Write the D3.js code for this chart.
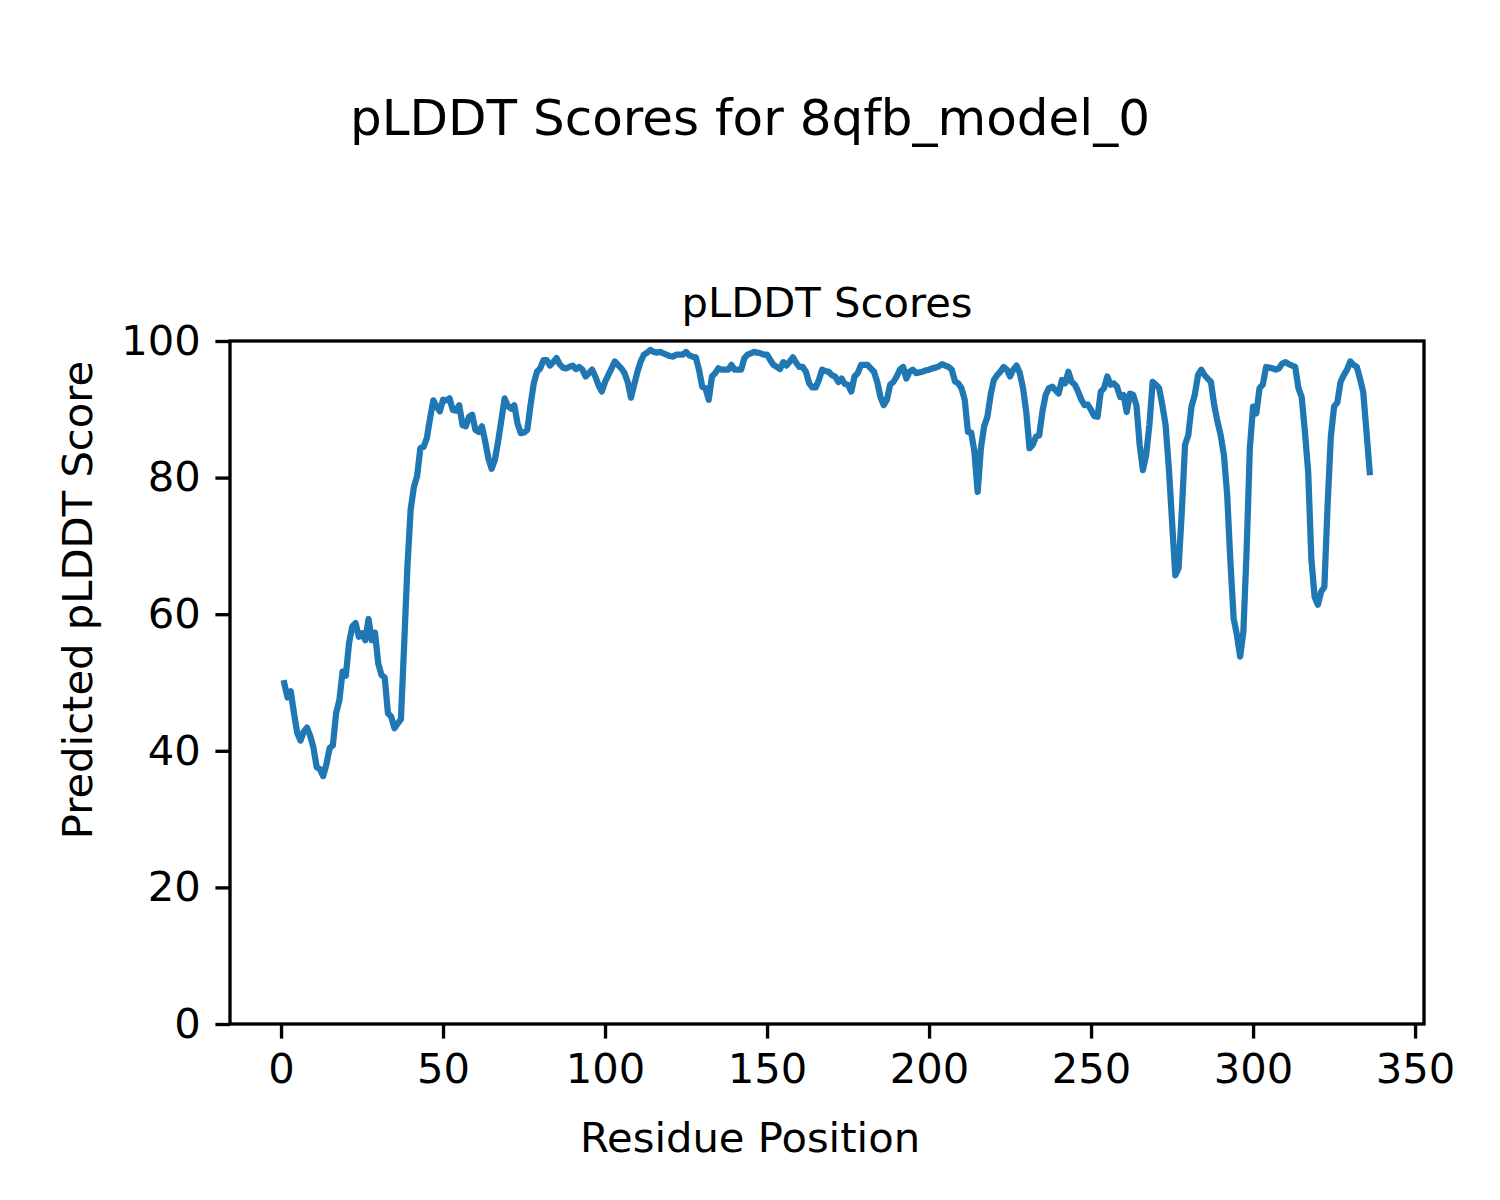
<!DOCTYPE html>
<html>
<head>
<meta charset="utf-8">
<script src="https://cdn.jsdelivr.net/npm/d3@7"></script>
<style>
  html, body { margin: 0; padding: 0; background: #fff; }
  svg { display: block; }
  text { font-family: "DejaVu Sans", sans-serif; fill: #000; }
</style>
</head>
<body>
<script>
// ---------- data ----------
const residues = d3.range(1, 337);
const plddt = [
  49.9, 47.8, 48.7, 45.5, 42.6, 41.5, 42.8, 43.4, 42.2, 40.5,
  37.6, 37.3, 36.3, 38.0, 40.4, 40.8, 45.5, 47.4, 51.6, 51.0,
  55.8, 58.2, 58.7, 56.7, 57.2, 56.2, 59.3, 56.2, 57.3, 52.8,
  51.1, 50.7, 45.5, 45.0, 43.3, 44.0, 44.6, 55.5, 66.9, 75.3,
  78.6, 80.2, 84.3, 84.5, 85.8, 88.7, 91.3, 90.4, 89.7, 91.4,
  91.3, 91.6, 89.9, 89.8, 90.6, 87.7, 87.5, 88.9, 89.2, 87.0,
  86.7, 87.5, 85.3, 82.8, 81.3, 82.6, 85.3, 88.4, 91.6, 90.5,
  90.1, 90.6, 87.9, 86.5, 86.6, 87.0, 90.6, 93.8, 95.5, 96.0,
  97.2, 97.2, 96.4, 96.9, 97.5, 96.6, 96.1, 96.0, 96.2, 96.4,
  95.9, 96.2, 95.8, 94.8, 95.3, 95.8, 94.8, 93.5, 92.6, 94.0,
  95.0, 96.0, 97.0, 96.5, 96.0, 95.3, 94.0, 91.7, 93.6, 95.5,
  97.0, 98.0, 98.3, 98.7, 98.4, 98.3, 98.4, 98.2, 98.0, 97.8,
  97.7, 98.0, 98.0, 98.0, 98.4, 97.9, 97.7, 97.6, 95.8, 93.3,
  93.1, 91.4, 94.8, 95.3, 96.0, 95.8, 95.8, 95.8, 96.5, 95.8,
  95.8, 95.8, 97.5, 98.0, 98.2, 98.4, 98.3, 98.2, 98.0, 98.0,
  97.2, 96.5, 96.2, 95.9, 96.9, 96.4, 97.0, 97.6, 96.8, 96.2,
  96.2, 95.5, 93.8, 93.2, 93.2, 94.3, 95.8, 95.6, 95.5, 95.0,
  94.8, 94.0, 94.5, 93.7, 93.6, 92.6, 94.8, 95.3, 96.5, 96.5,
  96.5, 96.0, 95.5, 94.0, 91.8, 90.6, 91.4, 93.6, 94.0, 94.8,
  95.8, 96.2, 94.5, 95.5, 95.8, 95.3, 95.4, 95.5, 95.7, 95.8,
  96.0, 96.1, 96.3, 96.6, 96.4, 96.2, 95.8, 94.1, 93.8, 93.1,
  91.4, 86.7, 86.6, 83.8, 77.9, 84.3, 87.5, 88.9, 92.1, 94.3,
  95.0, 95.5, 96.2, 95.8, 94.8, 95.8, 96.4, 95.3, 93.1, 89.6,
  84.3, 84.8, 86.0, 86.2, 89.7, 92.1, 93.1, 93.3, 92.8, 92.3,
  94.3, 93.8, 95.5, 94.0, 93.6, 92.6, 91.4, 90.6, 90.7, 89.9,
  89.0, 88.9, 92.6, 93.1, 94.8, 93.6, 93.8, 93.3, 91.8, 92.1,
  89.6, 92.3, 92.1, 90.6, 84.8, 81.1, 83.3, 87.7, 94.0, 93.6,
  93.1, 90.6, 87.7, 81.4, 73.5, 65.7, 66.7, 75.0, 84.8, 86.2,
  90.4, 92.1, 95.0, 95.8, 95.0, 94.5, 94.0, 90.6, 88.2, 86.2,
  83.3, 77.5, 67.7, 59.4, 57.0, 53.8, 57.4, 69.2, 84.3, 90.4,
  89.4, 93.1, 93.6, 96.2, 96.1, 96.0, 95.8, 96.0, 96.7, 96.9,
  96.6, 96.4, 96.2, 93.1, 91.8, 86.7, 80.9, 68.0, 62.5, 61.4,
  63.3, 64.0, 76.0, 86.0, 90.4, 91.0, 94.0, 95.0, 95.8, 97.0,
  96.5, 96.2, 94.5, 92.5, 86.7, 80.8
];
const xTicks = [0, 50, 100, 150, 200, 250, 300, 350];
const yTicks = [0, 20, 40, 60, 80, 100];
const figTitle = "pLDDT Scores for 8qfb_model_0";
const axTitle = "pLDDT Scores";
const xLabel = "Residue Position";
const yLabel = "Predicted pLDDT Score";

// ---------- layout ----------
const W = 1500, H = 1200;
const pL = 230, pR = 1424, pT = 341, pB = 1024;
const pad = (residues[residues.length - 1] - residues[0]) * 0.05;

const x = d3.scaleLinear()
  .domain([residues[0] - pad, residues[residues.length - 1] + pad])
  .range([pL, pR]);
const y = d3.scaleLinear().domain([0, 100]).range([pB, pT]);

const svg = d3.select("body").append("svg")
  .attr("width", W).attr("height", H);
svg.append("rect").attr("width", W).attr("height", H).attr("fill", "#fff");

// line
const line = d3.line().x((d, i) => x(residues[i])).y(d => y(d));
svg.append("path")
  .datum(plddt)
  .attr("d", line)
  .attr("fill", "none")
  .attr("stroke", "#1f77b4")
  .attr("stroke-width", 6.25)
  .attr("stroke-linejoin", "round")
  .attr("stroke-linecap", "square");

// axes
const tickLen = 14.6, tickPad = 14.6, fs = 41.7;
const xAxis = svg.append("g")
  .attr("transform", `translate(0,${pB})`)
  .call(d3.axisBottom(x).tickValues(xTicks).tickSize(tickLen).tickPadding(tickPad).tickFormat(d3.format("d")));
const yAxis = svg.append("g")
  .attr("transform", `translate(${pL},0)`)
  .call(d3.axisLeft(y).tickValues(yTicks).tickSize(tickLen).tickPadding(tickPad).tickFormat(d3.format("d")));
[xAxis, yAxis].forEach(g => {
  g.select(".domain").remove();
  g.selectAll(".tick line").attr("stroke", "#000").attr("stroke-width", 3.33);
  g.selectAll(".tick text")
    .attr("font-family", "DejaVu Sans")
    .attr("font-size", fs)
    .attr("fill", "#000");
});

// frame
svg.append("rect")
  .attr("x", pL).attr("y", pT)
  .attr("width", pR - pL).attr("height", pB - pT)
  .attr("fill", "none").attr("stroke", "#000").attr("stroke-width", 3.33);

// titles and labels
svg.append("text")
  .attr("x", W / 2).attr("y", 135)
  .attr("text-anchor", "middle").attr("font-size", 50)
  .text(figTitle);
svg.append("text")
  .attr("x", (pL + pR) / 2).attr("y", 317)
  .attr("text-anchor", "middle").attr("font-size", fs)
  .text(axTitle);
svg.append("text")
  .attr("x", W / 2).attr("y", 1152)
  .attr("text-anchor", "middle").attr("font-size", fs)
  .text(xLabel);
svg.append("text")
  .attr("transform", `translate(92,${H / 2}) rotate(-90)`)
  .attr("text-anchor", "middle").attr("font-size", fs)
  .text(yLabel);
</script>
</body>
</html>
